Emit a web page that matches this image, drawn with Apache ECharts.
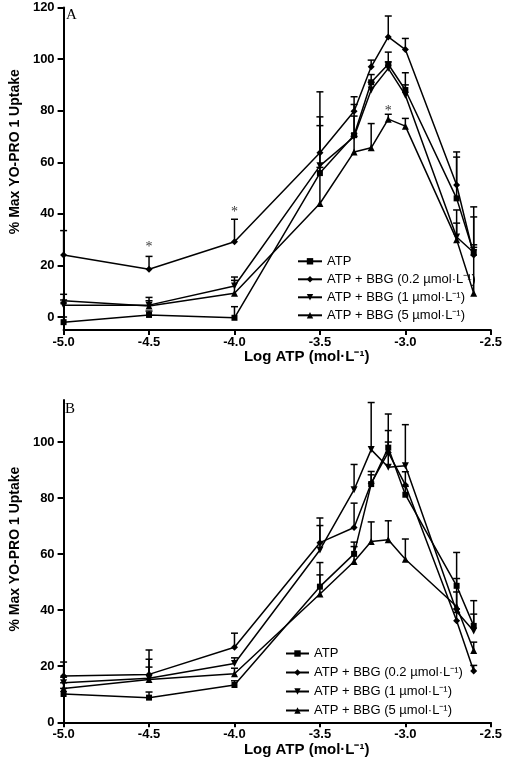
<!DOCTYPE html>
<html>
<head>
<meta charset="utf-8">
<script src="https://cdn.jsdelivr.net/npm/echarts@6/dist/echarts.min.js"></script>
<style>html,body{margin:0;padding:0;background:#fff}#c{width:505px;height:760px}</style>
</head>
<body>
<div id="c"></div>
<script>
// ---- data ----
const logATP = [-5.0, -4.5, -4.0, -3.5, -3.3, -3.2, -3.1, -3.0, -2.7, -2.6];
const seriesNames = ['ATP', 'ATP + BBG (0.2 µmol·L⁻¹)', 'ATP + BBG (1 µmol·L⁻¹)', 'ATP + BBG (5 µmol·L⁻¹)'];
const xTicks = [-5.0, -4.5, -4.0, -3.5, -3.0, -2.5];
const yTicksA = [0, 20, 40, 60, 80, 100, 120];
const yTicksB = [0, 20, 40, 60, 80, 100];

// Panel A means
const atpA    = [-2.0, 0.8, -0.3, 55.8, 70.5, 91.0, 98.0, 88.0, 46.0, 24.8];
const bbg02A  = [24.0, 18.5, 29.2, 63.7, 79.8, 97.0, 108.6, 103.7, 51.2, 24.0];
const bbg1A   = [4.6, 4.6, 12.0, 58.6, 69.9, 88.0, 96.4, 86.0, 31.0, 25.0];
const bbg5A   = [6.3, 4.3, 9.2, 44.0, 64.0, 65.6, 76.7, 74.0, 30.0, 9.2];
// Panel A upper error (SEM)
const atpErrA   = [2.0, 1.5, 4.3, 21.8, 11.9, 3.0, 4.7, 6.7, 16.0, 14.0];
const bbg02ErrA = [9.5, 5.0, 8.7, 23.6, 5.6, 2.6, 8.1, 4.3, 12.8, 3.0];
const bbg1ErrA  = [2.0, 3.0, 3.5, 15.6, 8.0, 3.0, 2.5, 4.0, 5.4, 3.0];
const bbg5ErrA  = [2.5, 2.0, 5.0, 14.0, 6.0, 9.4, 1.9, 3.0, 11.5, 33.5];
const asterisksA = [[-4.5, 26.9], [-4.0, 40.4], [-3.1, 79.7]];

// Panel B means
const atpB    = [10.1, 8.8, 13.3, 48.4, 60.1, 85.0, 98.0, 81.2, 48.7, 34.4];
const bbg02B  = [16.5, 17.1, 26.8, 64.1, 69.5, 85.3, 96.3, 84.7, 36.2, 18.3];
const bbg1B   = [14.1, 15.7, 21.0, 61.5, 83.0, 97.3, 91.0, 91.5, 39.5, 32.6];
const bbg5B   = [12.1, 15.3, 17.3, 45.8, 57.4, 64.5, 65.1, 58.2, 41.3, 25.6];
// Panel B upper error (SEM)
const atpErrB   = [2.0, 2.0, 1.5, 4.2, 4.2, 4.5, 12.0, 3.0, 11.9, 9.0];
const bbg02ErrB = [5.0, 8.7, 5.0, 8.8, 8.7, 3.0, 7.8, 4.7, 3.0, 2.0];
const bbg1ErrB  = [2.0, 6.8, 2.0, 8.7, 9.0, 16.8, 9.0, 14.7, 7.0, 6.0];
const bbg5ErrB  = [2.0, 4.4, 2.0, 11.2, 5.3, 7.0, 6.8, 7.2, 10.0, 3.0];

// ---- chart ----
const FONT = 'Liberation Sans, Arial, sans-serif';
const symbols = [
  {symbol: 'rect', size: 6, rotate: 0},
  {symbol: 'diamond', size: 7, rotate: 0},
  {symbol: 'triangle', size: 7, rotate: 180},
  {symbol: 'triangle', size: 7, rotate: 0}
];

function pairs(vals) { return logATP.map((x, i) => [x, vals[i]]); }
function triples(vals, errs) { return logATP.map((x, i) => [x, vals[i], errs[i]]); }

function lineSeries(idx, vals, gi) {
  const s = symbols[idx];
  return {
    type: 'line', name: seriesNames[idx], xAxisIndex: gi, yAxisIndex: gi,
    data: pairs(vals), symbol: s.symbol, symbolSize: s.size, symbolRotate: s.rotate,
    showAllSymbol: true, clip: false, z: 3,
    lineStyle: {color: '#000', width: 1.5},
    itemStyle: {color: '#000', borderWidth: 0}
  };
}
function errSeries(vals, errs, gi) {
  return {
    type: 'custom', name: 'err', xAxisIndex: gi, yAxisIndex: gi, silent: true, z: 2,
    data: triples(vals, errs), encode: {x: 0, y: 1}, clip: false,
    renderItem: function (params, api) {
      const x = api.value(0), y = api.value(1), e = api.value(2);
      const p0 = api.coord([x, y]);
      const p1 = api.coord([x, y + e]);
      const st = {stroke: '#000', lineWidth: 1.5};
      return {type: 'group', children: [
        {type: 'line', shape: {x1: p0[0], y1: p0[1], x2: p1[0], y2: p1[1]}, style: st},
        {type: 'line', shape: {x1: p1[0] - 3.5, y1: p1[1], x2: p1[0] + 3.5, y2: p1[1]}, style: st}
      ]};
    }
  };
}

const axisLineStyle = {color: '#000', width: 2};
function xAxis(gi) {
  return {
    type: 'value', gridIndex: gi, min: -5, max: -2.5, interval: 0.5,
    axisLine: {onZero: false, lineStyle: axisLineStyle},
    axisTick: {length: 5, lineStyle: {color: '#000', width: 2}},
    splitLine: {show: false},
    axisLabel: {formatter: v => v.toFixed(1), color: '#000', fontWeight: 'bold', fontSize: 13, fontFamily: FONT, margin: 6, showMinLabel: true, showMaxLabel: true},
    name: 'Log ATP (mol·L⁻¹)', nameLocation: 'middle', nameGap: 19,
    nameTextStyle: {color: '#000', fontWeight: 'bold', fontSize: 15, fontFamily: FONT, padding: [0, 0, 0, 59]}
  };
}
function yAxis(gi, min, max, ticks, shift) {
  return {
    type: 'value', gridIndex: gi, min: min, max: max,
    axisLine: {show: true, onZero: false, lineStyle: axisLineStyle},
    axisTick: {show: true, length: 6, lineStyle: {color: '#000', width: 2}, customValues: ticks},
    splitLine: {show: false},
    axisLabel: {color: '#000', fontWeight: 'bold', fontSize: 13, fontFamily: FONT, margin: 9, customValues: ticks},
    name: '% Max YO-PRO 1 Uptake', nameLocation: 'middle', nameGap: 38,
    nameTextStyle: {color: '#000', fontWeight: 'bold', fontSize: 14, fontFamily: FONT, padding: [0, 0, 0, shift]}
  };
}
function legend(top, left, gap, itemW) {
  return {
    orient: 'vertical', top: top, left: left, itemGap: gap, itemWidth: itemW, itemHeight: 8,
    padding: 0, data: seriesNames, selectedMode: false,
    textStyle: {color: '#000', fontSize: 13, fontFamily: FONT, lineHeight: 14}
  };
}

const chart = echarts.init(document.getElementById('c'), null, {renderer: 'canvas'});
chart.setOption({
  animation: false,
  backgroundColor: '#fff',
  title: [
    {text: 'A', left: 61, top: 3, textStyle: {fontFamily: 'Liberation Serif, Times New Roman, serif', fontWeight: 'normal', fontSize: 15, color: '#000'}},
    {text: 'B', left: 60, top: 397, textStyle: {fontFamily: 'Liberation Serif, Times New Roman, serif', fontWeight: 'normal', fontSize: 15, color: '#000'}}
  ],
  grid: [
    {left: 45, right: 9, top: 7.5, height: 322.4},
    {left: 45, right: 9, top: 400, height: 322.3}
  ],
  xAxis: [xAxis(0), xAxis(1)],
  yAxis: [yAxis(0, -5, 120, yTicksA, 34), yAxis(1, 0, 115, yTicksB, 24)],
  legend: [legend(254.3, 297, 4, 24), legend(646.5, 285, 5, 23)],
  series: [
    errSeries(atpA, atpErrA, 0), errSeries(bbg02A, bbg02ErrA, 0), errSeries(bbg1A, bbg1ErrA, 0), errSeries(bbg5A, bbg5ErrA, 0),
    lineSeries(0, atpA, 0), lineSeries(1, bbg02A, 0), lineSeries(2, bbg1A, 0), lineSeries(3, bbg5A, 0),
    errSeries(atpB, atpErrB, 1), errSeries(bbg02B, bbg02ErrB, 1), errSeries(bbg1B, bbg1ErrB, 1), errSeries(bbg5B, bbg5ErrB, 1),
    lineSeries(0, atpB, 1), lineSeries(1, bbg02B, 1), lineSeries(2, bbg1B, 1), lineSeries(3, bbg5B, 1),
    {
      type: 'scatter', name: 'sig', xAxisIndex: 0, yAxisIndex: 0, data: asterisksA, symbolSize: 0, silent: true,
      label: {show: true, position: 'inside', formatter: '*', color: '#000', fontSize: 14, fontFamily: 'Liberation Serif, Times New Roman, serif'}
    }
  ]
});
</script>
</body>
</html>
